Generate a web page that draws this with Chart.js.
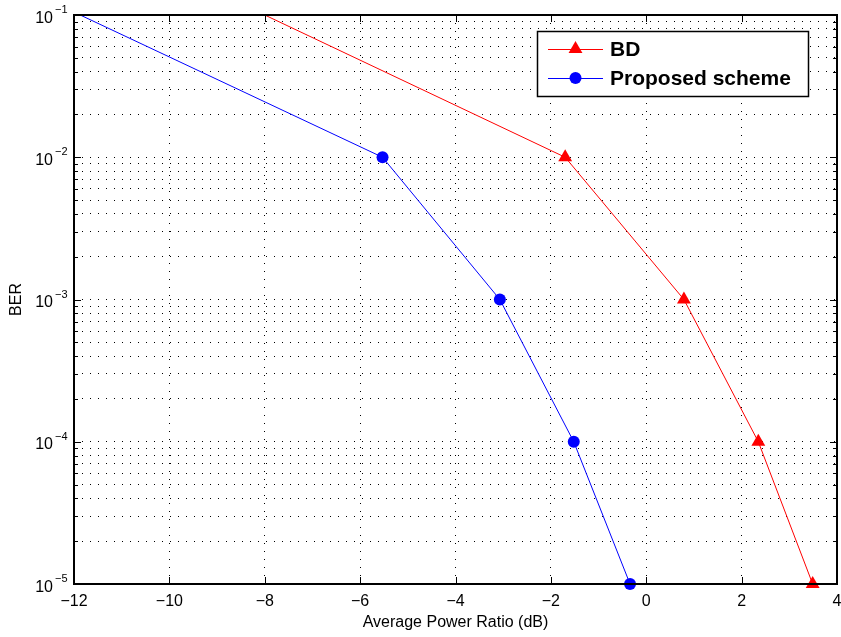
<!DOCTYPE html>
<html><head><meta charset="utf-8">
<script src="https://cdn.jsdelivr.net/npm/chart.js@4.4.1/dist/chart.umd.min.js"></script>
<style>html,body{margin:0;padding:0;background:#fff;overflow:hidden;} #wrap{width:841px;height:637px;}</style>
</head><body><div id="wrap"><canvas id="c" width="841" height="637"></canvas></div>
<script>
// ---- data ----
const seriesNames = ['BD', 'Proposed scheme'];
const bdX   = [-8.0, -1.70, 0.79, 2.35, 3.49];
const bdY   = [1e-1, 1e-2, 1e-3, 1e-4, 1e-5];
const bdMarkerShown = [0, 1, 1, 1, 1];
const propX = [-11.87, -5.53, -3.07, -1.52, -0.34];
const propY = [1e-1, 1e-2, 1e-3, 1e-4, 1e-5];
const propMarkerShown = [0, 1, 1, 1, 1];
const xTicks = [-12, -10, -8, -6, -4, -2, 0, 2, 4];
const yDecades = [1e-5, 1e-4, 1e-3, 1e-2, 1e-1];
const yMinorMult = [2, 3, 4, 5, 6, 7, 8, 9];
const xTitle = 'Average Power Ratio (dB)';
const yTitle = 'BER';

const FONT = "'Liberation Sans', Arial, Helvetica, sans-serif";

function yTickValues() {
  const vals = [];
  yDecades.forEach((d, i) => {
    vals.push(d);
    if (i < yDecades.length - 1) yMinorMult.forEach(m => vals.push(Number((m * d).toPrecision(6))));
  });
  return vals;
}
function isDecade(v) {
  const e = Math.round(Math.log10(v));
  return Math.abs(v - Math.pow(10, e)) / v < 1e-6;
}

const toPts = (xs, ys) => xs.map((x, i) => ({x: x, y: ys[i]}));

const boxPlugin = {
  id: 'matlabBox',
  afterDraw(chart) {
    const ctx = chart.ctx;
    const a = chart.chartArea;
    const xs = chart.scales.x, ys = chart.scales.y;
    const L = Math.round(a.left), R = Math.round(a.right), T = Math.round(a.top), B = Math.round(a.bottom);
    ctx.save();
    // inner tick marks
    ctx.strokeStyle = '#000';
    ctx.lineWidth = 1;
    ctx.beginPath();
    xs.ticks.forEach(t => {
      const px = Math.round(xs.getPixelForValue(t.value)) + 0.5;
      ctx.moveTo(px, B); ctx.lineTo(px, B - 7);
      ctx.moveTo(px, T); ctx.lineTo(px, T + 7);
    });
    ys.ticks.forEach(t => {
      const py = Math.round(ys.getPixelForValue(t.value)) + 0.5;
      const len = isDecade(t.value) ? 7 : 4;
      ctx.moveTo(L, py); ctx.lineTo(L + len, py);
      ctx.moveTo(R, py); ctx.lineTo(R - len, py);
    });
    ctx.stroke();
    // y tick labels: 10 with superscript exponent
    ctx.fillStyle = '#000';
    ctx.textBaseline = 'alphabetic';
    ys.ticks.forEach(t => {
      if (!isDecade(t.value)) return;
      const py = ys.getPixelForValue(t.value);
      const e = Math.round(Math.log10(t.value));
      ctx.font = '16px ' + FONT;
      ctx.textAlign = 'right';
      ctx.fillText('10', L - 21, py + 7.5);
      ctx.font = '11px ' + FONT;
      ctx.textAlign = 'left';
      ctx.fillText((e < 0 ? '\u2212' : '') + Math.abs(e), L - 19, py - 2);
    });
    // axes box
    ctx.strokeStyle = '#000';
    ctx.lineWidth = 2;
    ctx.strokeRect(L, T, R - L, B - T);
    // legend
    const lx = R - 300, ly = T + 16, lw = 271, lh = 65;
    ctx.fillStyle = '#fff';
    ctx.fillRect(lx, ly, lw, lh);
    ctx.lineWidth = 1.5;
    ctx.strokeStyle = '#000';
    ctx.strokeRect(lx + 0.5, ly + 0.5, lw, lh);
    const rows = [ly + 18, ly + 47];
    chart.data.datasets.forEach((ds, i) => {
      const y = rows[i];
      ctx.strokeStyle = ds.borderColor;
      ctx.lineWidth = 1;
      ctx.beginPath();
      ctx.moveTo(lx + 11, y + 0.5); ctx.lineTo(lx + 66, y + 0.5);
      ctx.stroke();
      const cx = lx + 38.5;
      ctx.fillStyle = ds.pointBackgroundColor;
      ctx.beginPath();
      if (ds.pointStyle === 'triangle') {
        const r = 8;
        let rad = 0;
        ctx.moveTo(cx + Math.sin(rad) * r, y - Math.cos(rad) * r);
        rad += 2 * Math.PI / 3;
        ctx.lineTo(cx + Math.sin(rad) * r, y - Math.cos(rad) * r);
        rad += 2 * Math.PI / 3;
        ctx.lineTo(cx + Math.sin(rad) * r, y - Math.cos(rad) * r);
        ctx.closePath();
      } else {
        ctx.arc(cx, y, 6, 0, Math.PI * 2);
      }
      ctx.fill();
      ctx.fillStyle = '#000';
      ctx.font = 'bold 21px ' + FONT;
      ctx.textBaseline = 'middle';
      ctx.textAlign = 'left';
      ctx.fillText(ds.label, lx + 73, y + 1);
    });
    ctx.restore();
  }
};

new Chart(document.getElementById('c'), {
  type: 'line',
  data: {
    datasets: [
      {
        label: seriesNames[0],
        data: toPts(bdX, bdY),
        borderColor: '#ff0000',
        backgroundColor: '#ff0000',
        pointBackgroundColor: '#ff0000',
        pointBorderColor: '#ff0000',
        borderWidth: 1,
        pointStyle: 'triangle',
        pointRadius: bdMarkerShown.map(s => s ? 8 : 0),
        pointBorderWidth: 0,
        tension: 0,
        fill: false,
        clip: false
      },
      {
        label: seriesNames[1],
        data: toPts(propX, propY),
        borderColor: '#0000ff',
        backgroundColor: '#0000ff',
        pointBackgroundColor: '#0000ff',
        pointBorderColor: '#0000ff',
        borderWidth: 1,
        pointStyle: 'circle',
        pointRadius: propMarkerShown.map(s => s ? 6 : 0),
        pointBorderWidth: 0,
        tension: 0,
        fill: false,
        clip: false
      }
    ]
  },
  options: {
    responsive: false,
    animation: false,
    devicePixelRatio: 1,
    layout: {autoPadding: false, padding: {left: 0, right: 4, top: 15, bottom: 0}},
    plugins: {legend: {display: false}, tooltip: {enabled: false}},
    scales: {
      x: {
        type: 'linear',
        min: -12, max: 4,
        afterBuildTicks: (s) => { s.ticks = xTicks.map(v => ({value: v})); },
        afterFit: (s) => { s.height = 53; s.paddingLeft = 0; s.paddingRight = 0; },
        ticks: {
          autoSkip: false, maxRotation: 0, padding: 8,
          color: '#000', font: {family: FONT, size: 16},
          callback: (v) => v < 0 ? '\u2212' + Math.abs(v) : String(v)
        },
        grid: {color: '#000', lineWidth: 1, drawTicks: false},
        border: {display: false, dash: [1, 7]},
        title: {display: true, text: xTitle, color: '#000', font: {family: FONT, size: 16}, padding: {top: 0, bottom: 5}}
      },
      y: {
        type: 'logarithmic',
        min: 1e-5, max: 1e-1,
        afterBuildTicks: (s) => { s.ticks = yTickValues().map(v => ({value: v, major: isDecade(v)})); },
        afterFit: (s) => { s.width = 74; s.paddingTop = 0; s.paddingBottom = 0; },
        ticks: {
          display: false, autoSkip: false,
          callback: (v) => isDecade(v) ? '10^' + Math.round(Math.log10(v)) : ''
        },
        grid: {color: '#000', lineWidth: 1, drawTicks: false},
        border: {display: false, dash: [1, 7]},
        title: {display: true, text: yTitle, color: '#000', font: {family: FONT, size: 16}, padding: {top: 7, bottom: 0}}
      }
    }
  },
  plugins: [boxPlugin]
});
</script></body></html>
